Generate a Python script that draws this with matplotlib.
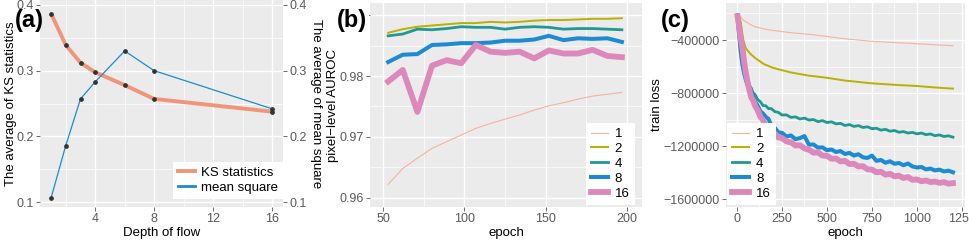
import matplotlib
matplotlib.use("Agg")
import matplotlib.pyplot as plt
from matplotlib.lines import Line2D

plt.rcParams['font.family'] = ['Liberation Sans', 'DejaVu Sans']

# ---- panel (a) ----
depth = [1, 2, 3, 4, 6, 8, 16]
ks_stat = [0.387, 0.339, 0.312, 0.2975, 0.278, 0.257, 0.2376]
mean_sq = [0.106, 0.186, 0.257, 0.283, 0.330, 0.300, 0.242]

# ---- panel (b) ----
epoch_b = [53, 62, 71, 80, 89, 98, 107, 116, 125, 134, 143, 152, 161, 170, 179, 188, 197]
auroc = {
    '1': [0.9622, 0.9648, 0.9665, 0.9681, 0.9692, 0.9703, 0.9714, 0.9722, 0.9729,
          0.9736, 0.9744, 0.9751, 0.9756, 0.9762, 0.9767, 0.9770, 0.9773],
    '2': [0.9871, 0.9877, 0.9881, 0.9883, 0.9885, 0.9887, 0.9887, 0.9889, 0.9888,
          0.9889, 0.9891, 0.9892, 0.9892, 0.9893, 0.9894, 0.9894, 0.9895],
    '4': [0.9866, 0.9869, 0.9877, 0.9876, 0.9878, 0.9881, 0.9880, 0.9880, 0.9877,
          0.9880, 0.9881, 0.9880, 0.9877, 0.9878, 0.9878, 0.9877, 0.9876],
    '8': [0.9823, 0.9835, 0.9836, 0.9851, 0.9852, 0.9854, 0.9854, 0.9855, 0.9858,
          0.9858, 0.9860, 0.9866, 0.9859, 0.9862, 0.9861, 0.9862, 0.9856],
    '16': [0.9791, 0.9810, 0.9741, 0.9817, 0.9826, 0.9821, 0.9851, 0.9840, 0.9838,
           0.9840, 0.9829, 0.9842, 0.9837, 0.9837, 0.9843, 0.9833, 0.9831],
}

# ---- panel (c) ----
epoch_smooth = [10, 20, 35, 50, 75, 100, 150, 200, 300, 400, 500, 600, 750, 900, 1000, 1100, 1200]
loss_1 = [-205000, -225000, -250000, -262000, -284000, -300000, -316000, -328000, -345000,
          -357000, -373000, -391000, -410000, -421000, -428000, -436000, -443000]
loss_2 = [-211000, -260000, -400000, -465000, -505000, -535000, -582000, -610000, -645000,
          -669000, -685000, -706000, -727000, -740000, -747000, -758000, -767000]

epoch_noisy = [3, 10, 20, 30, 40, 50, 60, 70, 80, 90, 100, 115, 130, 145, 160, 175, 190,
               210, 230, 250, 275, 300, 325, 350, 375, 400, 425, 450, 475, 500, 525, 550,
               575, 600, 625, 650, 675, 700, 725, 750, 775, 800, 825, 850, 875, 900, 925,
               950, 975, 1000, 1025, 1050, 1075, 1100, 1125, 1150, 1175, 1200]
loss_4 = [-210000, -290000, -400000, -505000, -575000, -655000, -695000, -745000, -765000,
          -800000, -810000, -850000, -866000, -895000, -896000, -918000, -917000, -940000,
          -946000, -966000, -965000, -984000, -980000, -996000, -989000, -1004000, -1000000,
          -1016000, -1008000, -1023000, -1017000, -1033000, -1029000, -1045000, -1038000,
          -1052000, -1046000, -1060000, -1055000, -1069000, -1066000, -1080000, -1074000,
          -1088000, -1083000, -1096000, -1091000, -1102000, -1097000, -1108000, -1102000,
          -1114000, -1109000, -1122000, -1116000, -1128000, -1123000, -1133000]
loss_8 = [-215000, -330000, -480000, -585000, -655000, -705000, -745000, -755000, -795000,
          -825000, -865000, -895000, -938000, -955000, -980000, -995000, -1042000, -1062000,
          -1098000, -1100000, -1128000, -1120000, -1148000, -1140000, -1125000, -1190000,
          -1188000, -1212000, -1210000, -1232000, -1226000, -1245000, -1238000, -1260000,
          -1252000, -1272000, -1262000, -1285000, -1290000, -1272000, -1312000, -1305000,
          -1326000, -1315000, -1334000, -1328000, -1345000, -1332000, -1354000, -1362000,
          -1358000, -1376000, -1370000, -1384000, -1378000, -1392000, -1386000, -1398000]
loss_16 = [-220000, -280000, -385000, -455000, -565000, -655000, -725000, -785000, -835000,
           -855000, -895000, -930000, -980000, -1005000, -1045000, -1055000, -1085000,
           -1105000, -1135000, -1140000, -1165000, -1172000, -1196000, -1194000, -1218000,
           -1228000, -1250000, -1248000, -1272000, -1274000, -1296000, -1294000, -1316000,
           -1312000, -1336000, -1334000, -1354000, -1352000, -1376000, -1378000, -1398000,
           -1394000, -1416000, -1410000, -1428000, -1424000, -1441000, -1434000, -1455000,
           -1452000, -1466000, -1460000, -1472000, -1468000, -1478000, -1472000, -1484000,
           -1480000]

series_names = ['1', '2', '4', '8', '16']
colors = {'1': '#F6B39C', '2': '#BAB000', '4': '#1E9993', '8': '#1B8CD4', '16': '#DD88BA'}
widths = {'1': 0.8, '2': 1.4, '4': 2.0, '8': 2.9, '16': 4.2}

W, H = 969, 242
fig = plt.figure(figsize=(W / 100, H / 100), dpi=100)

TICK_GREY = '#5a5a5a'


def gg_style(ax, xmaj, xmin, ymaj, ymin):
    ax.set_facecolor('#EBEBEB')
    for s in ax.spines.values():
        s.set_visible(False)
    ax.set_xticks(xmaj)
    ax.set_xticks(xmin, minor=True)
    ax.set_yticks(ymaj)
    ax.set_yticks(ymin, minor=True)
    ax.grid(True, which='major', color='white', linewidth=1.0)
    ax.grid(True, which='minor', color='white', linewidth=0.5)
    ax.set_axisbelow(True)
    ax.tick_params(which='major', length=3, width=0.6, color='#555555',
                   labelcolor=TICK_GREY, labelsize=9, pad=1.5)
    ax.tick_params(which='minor', length=0)


def box(px_left, px_top, px_right, px_bottom):
    return [px_left / W, 1 - px_bottom / H, (px_right - px_left) / W, (px_bottom - px_top) / H]


# ---------- (a) ----------
ax = fig.add_axes(box(40, 0, 283, 207))
ax.plot(depth, ks_stat, color='#F0957A', lw=2.8, solid_capstyle='butt', zorder=3)
ax.plot(depth, mean_sq, color='#1A8CCF', lw=0.9, zorder=3)
ax.plot(depth, ks_stat, 'o', ms=2.4, color='#333333', zorder=4)
ax.plot(depth, mean_sq, 'o', ms=2.4, color='#333333', zorder=4)
ax.set_xlim(0.25, 16.75)
ax.set_ylim(0.0924, 0.4076)
gg_style(ax, [4, 8, 12, 16], [2, 6, 10, 14], [0.1, 0.2, 0.3, 0.4], [0.15, 0.25, 0.35])
ax.set_yticklabels(['0.1', '0.2', '0.3', '0.4'])
ax.set_xlabel('Depth of flow', fontsize=9.5, labelpad=1)
ax.set_ylabel('The average of KS statistics', fontsize=9.5, va='center')
ax.yaxis.set_label_coords(-0.12, 0.5)
ax2 = ax.twinx()
ax2.set_ylim(ax.get_ylim())
ax2.set_yticks([0.1, 0.2, 0.3, 0.4])
ax2.set_yticklabels(['0.1', '0.2', '0.3', '0.4'])
for s in ax2.spines.values():
    s.set_visible(False)
ax2.tick_params(length=3, width=0.6, color='#555555', labelcolor=TICK_GREY, labelsize=9, pad=1.5)
ax2.set_ylabel('The average of mean square', fontsize=9.5, rotation=-90, va='center')
ax2.yaxis.set_label_coords(1.135, 0.5)
handles = [Line2D([], [], color='#F0957A', lw=2.8), Line2D([], [], color='#1A8CCF', lw=2.0)]
leg = ax2.legend(handles, ['KS statistics', 'mean square'], loc='lower right',
                 bbox_to_anchor=(1.0, 0.04), fontsize=9.5, frameon=True, fancybox=False,
                 edgecolor='none', facecolor='white', framealpha=1, handlelength=1.3,
                 handletextpad=0.5, labelspacing=0.25, borderpad=0.35, borderaxespad=0)
fig.text(15 / W, 1 - 9 / H, '(a)', fontsize=17, fontweight='bold', va='top', ha='left')

# ---------- (b) ----------
bx = fig.add_axes(box(370, 3, 642, 207))
for name in series_names:
    bx.plot(epoch_b, auroc[name], color=colors[name], lw=widths[name], label=name)
bx.set_xlim(41.8, 209.4)
bx.set_ylim(0.95847, 0.9920)
gg_style(bx, [50, 100, 150, 200], [75, 125, 175], [0.96, 0.97, 0.98, 0.99],
         [0.965, 0.975, 0.985])
# the 0.99 label sits under the panel tag in the original
bx.set_yticklabels(['0.96', '0.97', '0.98', ''])
bx.set_xlabel('epoch', fontsize=9.5, labelpad=1)
bx.set_ylabel('pixel\u2212level AUROC', fontsize=9.5, va='center')
bx.yaxis.set_label_coords(-0.135, 0.5)
bx.legend(loc='lower right', bbox_to_anchor=(0.974, 0.01), fontsize=9.5, frameon=True,
          fancybox=False, edgecolor='none', facecolor='white', framealpha=1,
          handlelength=1.3, handletextpad=0.5, labelspacing=0.2, borderpad=0.4,
          borderaxespad=0)
fig.text(337 / W, 1 - 9 / H, '(b)', fontsize=17, fontweight='bold', va='top', ha='left',
         bbox=dict(facecolor='white', edgecolor='none', pad=1))

# ---------- (c) ----------
cx = fig.add_axes(box(726, 3, 965, 207))
cx.plot(epoch_smooth, loss_1, color=colors['1'], lw=widths['1'], label='1')
cx.plot(epoch_smooth, loss_2, color=colors['2'], lw=widths['2'], label='2')
cx.plot(epoch_noisy, loss_4, color=colors['4'], lw=widths['4'], label='4')
cx.plot(epoch_noisy, loss_8, color=colors['8'], lw=widths['8'], label='8')
cx.plot(epoch_noisy, loss_16, color=colors['16'], lw=widths['16'], label='16')
cx.set_xlim(-61, 1267)
cx.set_ylim(-1660000, -120800)
gg_style(cx, [0, 250, 500, 750, 1000, 1250], [125, 375, 625, 875, 1125],
         [-1600000, -1200000, -800000, -400000], [-1400000, -1000000, -600000, -200000])
cx.set_yticklabels(['\u22121600000', '\u22121200000', '\u2212800000', '\u2212400000'])
cx.set_xticklabels(['0', '250', '500', '750', '1000', '1250'])
cx.set_xlabel('epoch', fontsize=9.5, labelpad=1)
cx.set_ylabel('train loss', fontsize=9.5, va='center')
cx.yaxis.set_label_coords(-0.29, 0.5)
cx.legend(loc='lower left', bbox_to_anchor=(0.004, 0.01), fontsize=9.5, frameon=True,
          fancybox=False, edgecolor='none', facecolor='white', framealpha=1,
          handlelength=1.3, handletextpad=0.5, labelspacing=0.2, borderpad=0.4,
          borderaxespad=0)
fig.text(661 / W, 1 - 9 / H, '(c)', fontsize=17, fontweight='bold', va='top', ha='left')

fig.savefig('out.png', dpi=100)
